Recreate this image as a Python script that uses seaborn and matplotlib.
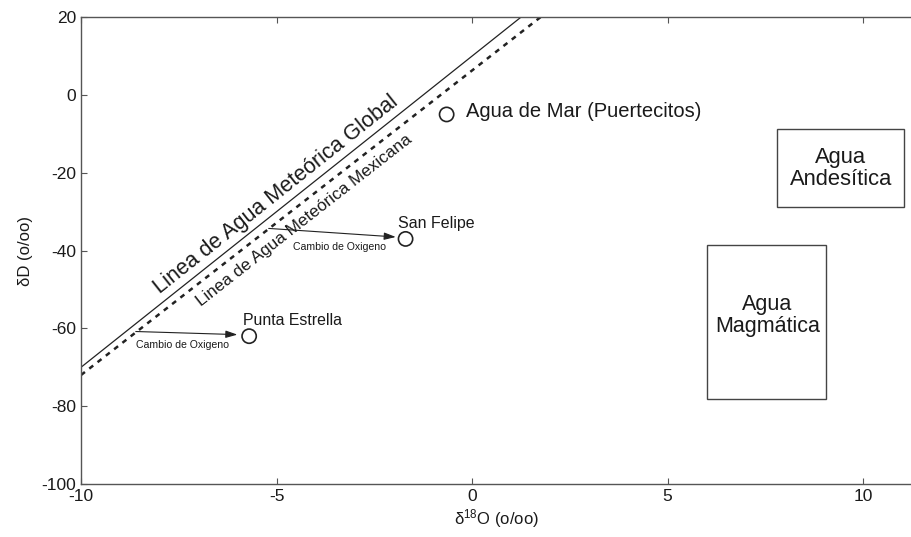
import matplotlib
matplotlib.use("Agg")
import matplotlib.pyplot as plt
import seaborn as sns
import pandas as pd
import numpy as np
from matplotlib.patches import Rectangle

# ---- data ----
gmwl_x = [-10.0, 1.25]
gmwl_y = [-70.0, 20.0]
mmwl_x = [-10.0, 1.75]
mmwl_y = [-72.0, 20.0]

sample_names = ["Agua de Mar (Puertecitos)", "San Felipe", "Punta Estrella"]
sample_d18o = [-0.65, -1.7, -5.7]
sample_dd = [-5.0, -37.0, -62.0]

arrow_start_x = [-5.2, -8.6]
arrow_start_y = [-34.3, -60.8]
arrow_end_x = [-1.95, -6.0]
arrow_end_y = [-36.5, -61.6]

andesitic_x = [7.8, 11.05]
andesitic_y = [-28.8, -8.8]
magmatic_x = [6.0, 9.05]
magmatic_y = [-78.2, -38.6]

x_ticks = [-10, -5, 0, 5, 10]
y_ticks = [-100, -80, -60, -40, -20, 0, 20]

sns.set_style("white")
plt.rcParams['font.family'] = ['Liberation Sans', 'DejaVu Sans']
plt.rcParams['axes.unicode_minus'] = False
plt.rcParams['mathtext.fontset'] = 'custom'
plt.rcParams['mathtext.rm'] = 'Liberation Sans'
plt.rcParams['mathtext.it'] = 'Liberation Sans'

fig = plt.figure(figsize=(9.12, 5.37), dpi=100)
ax = fig.add_axes([0.0888, 0.0987, 0.9112, 0.8693])

dark = "#222222"
sns.lineplot(x=gmwl_x, y=gmwl_y, ax=ax, color=dark, lw=0.9)
sns.lineplot(x=mmwl_x, y=mmwl_y, ax=ax, color=dark, lw=1.8, linestyle=(0, (2.0, 2.2)))

df = pd.DataFrame({"x": sample_d18o, "y": sample_dd, "name": sample_names})
sns.scatterplot(data=df, x="x", y="y", ax=ax, marker="o", s=105,
                facecolor="none", edgecolor=dark, linewidth=1.2, zorder=5)

for sx, sy, ex, ey in zip(arrow_start_x, arrow_start_y, arrow_end_x, arrow_end_y):
    ax.annotate("", xy=(ex, ey), xytext=(sx, sy),
                arrowprops=dict(arrowstyle="-|>,head_length=0.7,head_width=0.22",
                                color=dark, lw=0.8, shrinkA=0, shrinkB=0))

for bx, by in [(andesitic_x, andesitic_y), (magmatic_x, magmatic_y)]:
    ax.add_patch(Rectangle((bx[0], by[0]), bx[1] - bx[0], by[1] - by[0],
                           fill=False, edgecolor="#444444", lw=1.0))

tc = "#1a1a1a"
ax.text(-0.15, -4.3, "Agua de Mar (Puertecitos)", fontsize=14.5, ha="left", va="center", color=tc)
ax.text(-0.92, -33.0, "San Felipe", fontsize=11.5, ha="center", va="center", color=tc)
ax.text(-4.6, -58.0, "Punta Estrella", fontsize=11.4, ha="center", va="center", color=tc)
ax.text(-3.4, -39.0, "Cambio de Oxigeno", fontsize=7.6, ha="center", va="center", color=tc)
ax.text(-7.4, -64.2, "Cambio de Oxigeno", fontsize=7.6, ha="center", va="center", color=tc)
ax.text(-5.0, -25.6, "Linea de Agua Meteórica Global", fontsize=15.5, rotation=38.5,
        ha="center", va="center", rotation_mode="anchor", color=tc)
ax.text(-4.3, -32.3, "Linea de Agua Meteórica Mexicana", fontsize=12.3, rotation=38.0,
        ha="center", va="center", rotation_mode="anchor", color=tc)
ax.text(9.43, -19.0, "Agua\nAndesítica", fontsize=15.8, ha="center", va="center",
        linespacing=1.05, color=tc)
ax.text(7.55, -56.6, "Agua\nMagmática", fontsize=15.5, ha="center", va="center",
        linespacing=1.05, color=tc)

ax.set_xlim(-10, 11.25)
ax.set_ylim(-100, 20)
ax.set_xticks(x_ticks)
ax.set_yticks(y_ticks)
ax.tick_params(direction="in", length=4, width=0.8, colors="#555555",
               labelcolor="#1a1a1a", labelsize=12.5, top=True, bottom=True, left=True)
ax.set_xlabel("δ$^{18}$O (o/oo)", fontsize=12, color=tc, labelpad=2)
ax.set_ylabel("δD (o/oo)", fontsize=12, color=tc, labelpad=6)
for side in ["left", "bottom", "top"]:
    ax.spines[side].set_color("#555555")
    ax.spines[side].set_linewidth(1.0)
ax.spines["right"].set_visible(False)

fig.savefig("out.png", dpi=100)
